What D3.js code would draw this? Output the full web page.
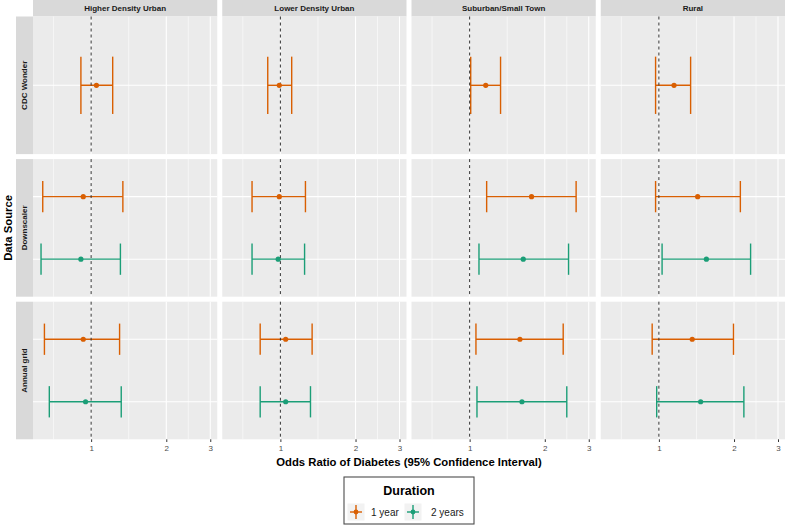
<!DOCTYPE html>
<html>
<head>
<meta charset="utf-8">
<script src="https://cdn.jsdelivr.net/npm/d3@7"></script>
<style>
  html, body { margin: 0; padding: 0; background: #ffffff; }
  svg { display: block; font-family: "Liberation Sans", Arial, sans-serif; }
</style>
</head>
<body>
<svg id="chart" width="786" height="525"></svg>
<script>
// ---------------- DATA ----------------
const categories = ["Higher Density Urban", "Lower Density Urban", "Suburban/Small Town", "Rural"];
const sources = ["CDC Wonder", "Downscaler", "Annual grid"];
const durations = ["1 year", "2 years"];
const tickValues = [1, 2, 3];
const tickLabels = ["1", "2", "3"];

// CDC Wonder, 1 year
const orCDC1 = [1.05, 0.99, 1.16, 1.15];
const loCDC1 = [0.91, 0.89, 1.01, 0.97];
const hiCDC1 = [1.22, 1.11, 1.33, 1.34];
// Downscaler, 1 year
const orDown1 = [0.93, 0.99, 1.77, 1.43];
const loDown1 = [0.64, 0.77, 1.17, 0.97];
const hiDown1 = [1.34, 1.26, 2.67, 2.12];
// Downscaler, 2 years
const orDown2 = [0.91, 0.98, 1.64, 1.55];
const loDown2 = [0.63, 0.77, 1.09, 1.03];
const hiDown2 = [1.31, 1.25, 2.49, 2.33];
// Annual grid, 1 year
const orAnn1 = [0.93, 1.05, 1.59, 1.36];
const loAnn1 = [0.65, 0.83, 1.06, 0.94];
const hiAnn1 = [1.30, 1.34, 2.37, 1.99];
// Annual grid, 2 years
const orAnn2 = [0.95, 1.05, 1.62, 1.47];
const loAnn2 = [0.68, 0.83, 1.07, 0.98];
const hiAnn2 = [1.32, 1.32, 2.45, 2.19];

const seriesTable = [
  { source: "CDC Wonder", duration: "1 year", or: orCDC1, lo: loCDC1, hi: hiCDC1 },
  { source: "Downscaler", duration: "1 year", or: orDown1, lo: loDown1, hi: hiDown1 },
  { source: "Downscaler", duration: "2 years", or: orDown2, lo: loDown2, hi: hiDown2 },
  { source: "Annual grid", duration: "1 year", or: orAnn1, lo: loAnn1, hi: hiAnn1 },
  { source: "Annual grid", duration: "2 years", or: orAnn2, lo: loAnn2, hi: hiAnn2 }
];
const rows = [];
seriesTable.forEach(s => categories.forEach((c, i) => {
  rows.push({ category: c, source: s.source, duration: s.duration, or: s.or[i], lo: s.lo[i], hi: s.hi[i] });
}));

// ---------------- LAYOUT ----------------
const svg = d3.select("#chart");
const W = 786, H = 525;
const plotL = 33, plotR = 785, plotT = 16.5, plotB = 439.3;
const gap = 5;
const colW = (plotR - plotL - gap * (categories.length - 1)) / categories.length;
const rowH = (plotB - plotT - gap * (sources.length - 1)) / sources.length;
const stripH = 16.5, stripW = 17;

const colors = d3.scaleOrdinal().domain(durations).range(["#D95F02", "#1B9E77"]);

const x = d3.scaleLog().domain([0.585, 3.2]).range([0, colW]);
const majorBreaks = [0.5, 1, 2, 3];
const minorBreaks = [Math.sqrt(0.5), Math.sqrt(2), Math.sqrt(6)];

svg.append("rect").attr("width", W).attr("height", H).attr("fill", "#ffffff");

// column strips
categories.forEach((c, ci) => {
  const x0 = plotL + ci * (colW + gap);
  svg.append("rect").attr("x", x0).attr("y", 0).attr("width", colW).attr("height", stripH).attr("fill", "#d9d9d9");
  svg.append("text").attr("x", x0 + colW / 2).attr("y", stripH / 2).attr("dy", "0.35em")
    .attr("text-anchor", "middle").attr("font-size", 8).attr("font-weight", "bold").attr("fill", "#1a1a1a").text(c);
});

sources.forEach((s, ri) => {
  const y0 = plotT + ri * (rowH + gap);
  // row strip
  svg.append("rect").attr("x", plotL - stripW).attr("y", y0).attr("width", stripW).attr("height", rowH).attr("fill", "#d9d9d9");
  svg.append("text").attr("transform", `translate(${plotL - stripW / 2},${y0 + rowH / 2}) rotate(-90)`)
    .attr("dy", "0.35em").attr("text-anchor", "middle").attr("font-size", 8).attr("font-weight", "bold")
    .attr("fill", "#1a1a1a").text(s);

  const levels = durations.filter(d => rows.some(r => r.source === s && r.duration === d));
  const n = levels.length;
  // discrete scale with 0.6 additive expansion
  const ylin = d3.scaleLinear().domain([0.4, n + 0.6]).range([y0, y0 + rowH]);
  const yPos = d => ylin(levels.indexOf(d) + 1);
  const capHalf = (ylin(1.25) - ylin(1));

  categories.forEach((c, ci) => {
    const x0 = plotL + ci * (colW + gap);
    const g = svg.append("g").attr("transform", `translate(${x0},0)`);
    g.append("rect").attr("x", 0).attr("y", y0).attr("width", colW).attr("height", rowH).attr("fill", "#ebebeb");
    // grid
    minorBreaks.forEach(v => {
      const px = x(v);
      if (px >= 0 && px <= colW) g.append("line").attr("x1", px).attr("x2", px).attr("y1", y0).attr("y2", y0 + rowH)
        .attr("stroke", "#ffffff").attr("stroke-width", 0.55);
    });
    majorBreaks.forEach(v => {
      const px = x(v);
      if (px >= 0 && px <= colW) g.append("line").attr("x1", px).attr("x2", px).attr("y1", y0).attr("y2", y0 + rowH)
        .attr("stroke", "#ffffff").attr("stroke-width", 1.07);
    });
    levels.forEach(d => {
      g.append("line").attr("x1", 0).attr("x2", colW).attr("y1", yPos(d)).attr("y2", yPos(d))
        .attr("stroke", "#ffffff").attr("stroke-width", 1.07);
    });

    const data = rows.filter(r => r.source === s && r.category === c);
    // error bars
    data.forEach(r => {
      const yc = yPos(r.duration), col = colors(r.duration);
      g.append("line").attr("x1", x(r.lo)).attr("x2", x(r.hi)).attr("y1", yc).attr("y2", yc)
        .attr("stroke", col).attr("stroke-width", 1.4);
      [r.lo, r.hi].forEach(v => {
        g.append("line").attr("x1", x(v)).attr("x2", x(v)).attr("y1", yc - capHalf).attr("y2", yc + capHalf)
          .attr("stroke", col).attr("stroke-width", 1.4);
      });
    });
    // reference line at 1
    g.append("line").attr("x1", x(1)).attr("x2", x(1)).attr("y1", y0).attr("y2", y0 + rowH)
      .attr("stroke", "#333333").attr("stroke-width", 1).attr("stroke-dasharray", "3,3");
    // points
    data.forEach(r => {
      g.append("circle").attr("cx", x(r.or)).attr("cy", yPos(r.duration)).attr("r", 2.6)
        .attr("fill", colors(r.duration));
    });

    // bottom axis on last row
    if (ri === sources.length - 1) {
      const axis = d3.axisBottom(x).tickValues(tickValues).tickFormat((d, i) => tickLabels[i]).tickSize(2.7).tickPadding(3);
      const ag = g.append("g").attr("transform", `translate(0,${y0 + rowH})`).call(axis);
      ag.select(".domain").remove();
      ag.selectAll(".tick line").attr("stroke", "#333333").attr("stroke-width", 1);
      ag.selectAll(".tick text").attr("font-size", 8).attr("fill", "#4d4d4d")
        .attr("font-family", "Liberation Sans, Arial, sans-serif");
    }
  });
});

// axis titles
svg.append("text").attr("x", (plotL + plotR) / 2).attr("y", 462.5).attr("dy", "0.35em")
  .attr("text-anchor", "middle").attr("font-size", 11.3).attr("font-weight", "bold").attr("fill", "#000")
  .text("Odds Ratio of Diabetes (95% Confidence Interval)");
svg.append("text").attr("transform", `translate(8.5,${(plotT + plotB) / 2}) rotate(-90)`).attr("dy", "0.35em")
  .attr("text-anchor", "middle").attr("font-size", 11.3).attr("font-weight", "bold").attr("fill", "#000")
  .text("Data Source");

// legend
const lg = svg.append("g");
const lx = 344, ly = 477, lw = 130, lh = 47;
lg.append("rect").attr("x", lx).attr("y", ly).attr("width", lw).attr("height", lh)
  .attr("fill", "#ffffff").attr("stroke", "#4d4d4d").attr("stroke-width", 1.1);
lg.append("text").attr("x", lx + lw / 2).attr("y", ly + 14).attr("dy", "0.35em").attr("text-anchor", "middle")
  .attr("font-size", 12.5).attr("font-weight", "bold").attr("fill", "#000").text("Duration");
const keyX = [356, 413], textX = [371, 431];
durations.forEach((d, i) => {
  const cx = keyX[i], cy = ly + 35;
  lg.append("rect").attr("x", cx - 8.5).attr("y", cy - 8.5).attr("width", 17).attr("height", 17).attr("fill", "#f2f2f2");
  lg.append("line").attr("x1", cx).attr("x2", cx).attr("y1", cy - 7).attr("y2", cy + 7).attr("stroke", colors(d)).attr("stroke-width", 1.4);
  lg.append("line").attr("x1", cx - 6).attr("x2", cx + 6).attr("y1", cy).attr("y2", cy).attr("stroke", colors(d)).attr("stroke-width", 1.4);
  lg.append("circle").attr("cx", cx).attr("cy", cy).attr("r", 2.4).attr("fill", colors(d));
  lg.append("text").attr("x", textX[i]).attr("y", cy).attr("dy", "0.35em").attr("font-size", 10).attr("fill", "#1a1a1a").text(d);
});
</script>
</body>
</html>
